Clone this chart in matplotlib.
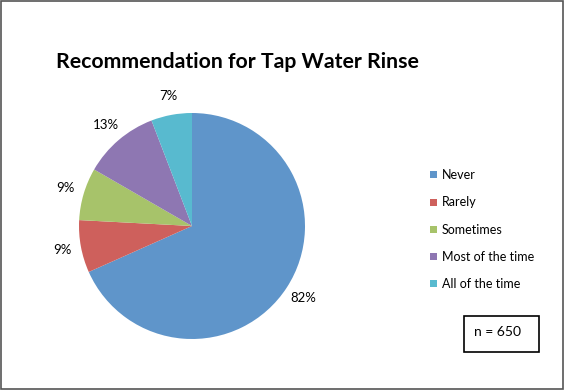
import matplotlib.pyplot as plt
from matplotlib.patches import Rectangle

# data
categories = ['Never', 'Rarely', 'Sometimes', 'Most of the time', 'All of the time']
values = [82, 9, 9, 13, 7]
pct_labels = ['82%', '9%', '9%', '13%', '7%']
colors = ['#5F95CA', '#CE605C', '#A7C36A', '#8E77B2', '#58BACF']
n_text = 'n = 650'

plt.rcParams['font.family'] = ['Lato', 'DejaVu Sans']

W, H = 564, 390
fig = plt.figure(figsize=(W / 100, H / 100), dpi=100)

# pie axes: center (192, 226) px from top-left, radius 113 px
cx, cy, r = 192, 226, 113
ax = fig.add_axes([(cx - r) / W, (H - cy - r) / H, 2 * r / W, 2 * r / H])
wedges, texts = ax.pie(values, labels=pct_labels, colors=colors,
                       startangle=90, counterclock=False, labeldistance=1.17,
                       textprops={'fontsize': 9.5})
for t in texts:
    t.set_ha('center')
    t.set_va('center')
ax.set_xlim(-1, 1)
ax.set_ylim(-1, 1)
ax.set_aspect('equal')

fig.text(237 / W, 1 - 62 / H, 'Recommendation for Tap Water Rinse',
         ha='center', va='center', fontsize=15.3, fontweight='bold')

fig.legend(wedges, categories, loc='upper left',
           bbox_to_anchor=(419 / W, 1 - 158 / H), frameon=False,
           fontsize=9, handlelength=0.5, handleheight=0.5,
           handletextpad=0.4, labelspacing=1.22)

# n box
fig.patches.append(Rectangle((464 / W, 1 - 352 / H), 75 / W, 36 / H,
                             transform=fig.transFigure, fill=False,
                             ec='black', lw=1.2))
fig.text(497 / W, 1 - 332 / H, n_text, ha='center', va='center', fontsize=10)

# outer border
fig.patches.append(Rectangle((0.002, 0.003), 0.996, 0.994,
                             transform=fig.transFigure, fill=False,
                             ec='#555555', lw=1.2))

fig.savefig('out.png', dpi=100)
